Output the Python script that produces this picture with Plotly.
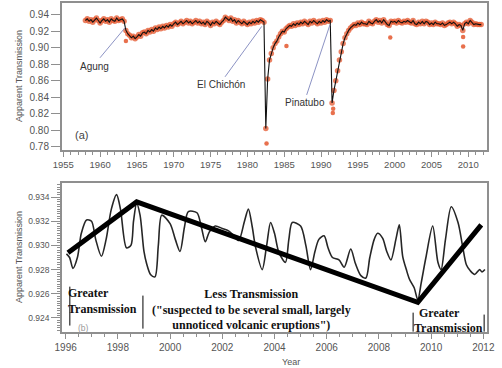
import plotly.graph_objects as go

# ---------------- data: panel (a) quarterly apparent transmission, 1958-2011 ----------------
top_start = 1958.0
top_step = 0.25
top_values = [
    0.933, 0.935, 0.932, 0.934,  # 1958
    0.931, 0.934, 0.936, 0.933,  # 1959
    0.930, 0.933, 0.935, 0.932,  # 1960
    0.934, 0.931, 0.935, 0.933,  # 1961
    0.932, 0.936, 0.933, 0.934,  # 1962
    0.935, 0.932, 0.921, 0.917,  # 1963
    0.915, 0.912, 0.914, 0.911,  # 1964
    0.913, 0.916, 0.914, 0.918,  # 1965
    0.919, 0.917, 0.921, 0.919,  # 1966
    0.922, 0.920, 0.924, 0.922,  # 1967
    0.925, 0.923, 0.926, 0.924,  # 1968
    0.927, 0.925, 0.928, 0.926,  # 1969
    0.929, 0.931, 0.928, 0.930,  # 1970
    0.932, 0.929, 0.931, 0.933,  # 1971
    0.930, 0.932, 0.929, 0.931,  # 1972
    0.933, 0.930, 0.932, 0.929,  # 1973
    0.931, 0.928, 0.932, 0.930,  # 1974
    0.927, 0.931, 0.929, 0.932,  # 1975
    0.930, 0.928, 0.931, 0.933,  # 1976
    0.937, 0.935, 0.933, 0.936,  # 1977
    0.932, 0.934, 0.930, 0.933,  # 1978
    0.931, 0.929, 0.932, 0.930,  # 1979
    0.928, 0.931, 0.929, 0.932,  # 1980
    0.930, 0.933, 0.931, 0.934,  # 1981
    0.933, 0.931, 0.802, 0.862,  # 1982
    0.885, 0.893, 0.900, 0.905,  # 1983
    0.908, 0.913, 0.917, 0.920,  # 1984
    0.919, 0.923, 0.925, 0.927,  # 1985
    0.926, 0.929, 0.927, 0.930,  # 1986
    0.928, 0.931, 0.929, 0.932,  # 1987
    0.930, 0.928, 0.932, 0.930,  # 1988
    0.933, 0.931, 0.929, 0.932,  # 1989
    0.930, 0.933, 0.931, 0.934,  # 1990
    0.932, 0.933, 0.833, 0.848,  # 1991
    0.860, 0.872, 0.885, 0.895,  # 1992
    0.905, 0.912, 0.917, 0.921,  # 1993
    0.924, 0.926, 0.928, 0.927,  # 1994
    0.930, 0.928, 0.931, 0.929,  # 1995
    0.929, 0.928, 0.932, 0.930,  # 1996
    0.929, 0.932, 0.934, 0.931,  # 1997
    0.933, 0.930, 0.934, 0.931,  # 1998
    0.928, 0.927, 0.932, 0.931,  # 1999
    0.932, 0.930, 0.933, 0.931,  # 2000
    0.930, 0.932, 0.931, 0.933,  # 2001
    0.931, 0.930, 0.933, 0.929,  # 2002
    0.928, 0.931, 0.929, 0.932,  # 2003
    0.929, 0.932, 0.931, 0.928,  # 2004
    0.930, 0.928, 0.931, 0.929,  # 2005
    0.929, 0.928, 0.930, 0.927,  # 2006
    0.928, 0.930, 0.931, 0.929,  # 2007
    0.931, 0.929, 0.926, 0.928,  # 2008
    0.927, 0.921, 0.929, 0.931,  # 2009
    0.929, 0.933, 0.931, 0.928,  # 2010
    0.929, 0.928, 0.928, 0.928,  # 2011
]
top_years = [top_start + i * top_step for i in range(len(top_values))]

# isolated monthly outliers (red dots away from the curve)
outlier_years = [1963.5, 1982.6, 1985.3, 1991.6, 1991.65, 1999.4, 2009.3, 2009.3]
outlier_values = [0.908, 0.784, 0.902, 0.821, 0.826, 0.9125, 0.913, 0.9015]

# volcano labels
volcano_names = ["Agung", "El Chichón", "Pinatubo"]
volcano_label_x = [1959.3, 1976.4, 1987.8]
volcano_label_y = [0.8768, 0.855, 0.833]
volcano_line_start = [(1959.98, 0.8878), (1976.96, 0.8647), (1988.05, 0.8428)]
volcano_line_end = [(1963.38, 0.9242), (1981.94, 0.9258), (1991.21, 0.9278)]

# ---------------- data: panel (b) 1996-2012 ----------------
bot_years = [
    1996.03, 1996.15, 1996.28, 1996.45, 1996.6, 1996.8, 1996.99, 1997.15, 1997.37, 1997.55,
    1997.75, 1997.95, 1998.1, 1998.33, 1998.5, 1998.6, 1998.72, 1998.85, 1999.0, 1999.1,
    1999.25, 1999.42, 1999.55, 1999.68, 2000.0, 2000.2, 2000.38, 2000.55, 2000.7, 2001.03,
    2001.2, 2001.35, 2001.5, 2001.73, 2002.0, 2002.24, 2002.45, 2002.63, 2002.85, 2003.0,
    2003.15, 2003.27, 2003.53, 2003.7, 2003.85, 2004.0, 2004.17, 2004.42, 2004.55, 2004.68,
    2005.0, 2005.2, 2005.38, 2005.55, 2005.7, 2005.9, 2006.05, 2006.22, 2006.47, 2006.67,
    2006.92, 2007.1, 2007.31, 2007.5, 2007.65, 2007.82, 2007.95, 2008.14, 2008.3, 2008.46,
    2008.65, 2008.78, 2008.91, 2009.05, 2009.17, 2009.35, 2009.49, 2009.62, 2009.8, 2010.06,
    2010.26, 2010.38, 2010.55, 2010.77, 2011.03, 2011.2, 2011.35, 2011.5, 2011.67, 2011.86,
    2011.95, 2012.06,
]
bot_values = [
    0.9293, 0.9290, 0.9281, 0.9290, 0.9310, 0.9321, 0.9320, 0.9305, 0.9291, 0.9305,
    0.9330, 0.9342, 0.9330, 0.9298, 0.9300, 0.9320, 0.9335, 0.9325, 0.9295, 0.9285,
    0.9276, 0.9274, 0.9300, 0.9325, 0.9318, 0.9305, 0.9295, 0.9315, 0.9328, 0.9327,
    0.9315, 0.9303, 0.9311, 0.9316, 0.9314, 0.9312, 0.9308, 0.9304, 0.9320, 0.9330,
    0.9315, 0.9299, 0.9280, 0.9300, 0.9319, 0.9310, 0.9294, 0.9286, 0.9305, 0.9319,
    0.9316, 0.9300, 0.9280, 0.9295, 0.9305, 0.9308, 0.9298, 0.9290, 0.9288, 0.9282,
    0.9297, 0.9285, 0.9275, 0.9273, 0.9290, 0.9305, 0.9310, 0.9306, 0.9295, 0.9288,
    0.9305, 0.9317, 0.9291, 0.9280, 0.9272, 0.9265, 0.9255, 0.9269, 0.9290, 0.9316,
    0.9286, 0.9280, 0.9305, 0.9332, 0.9319, 0.9300, 0.9284, 0.9279, 0.9276, 0.9280,
    0.9278, 0.9280,
]

# hand-drawn trend overlay
trend_years = [1996.09, 1998.72, 2009.49, 2011.92]
trend_values = [0.9294, 0.9336, 0.9253, 0.9317]

# separator ticks for the overlay text
sep_x = [1996.16, 1998.96, 2009.31, 2012.03]
sep_y0 = [0.92659, 0.92585, 0.92444, 0.92428]
sep_y1 = [0.92337, 0.92312, 0.92287, 0.92287]

top_tickvals = [0.78, 0.80, 0.82, 0.84, 0.86, 0.88, 0.90, 0.92, 0.94]
top_ticktext = ["0.78", "0.80", "0.82", "0.84", "0.86", "0.88", "0.90", "0.92", "0.94"]
bot_tickvals = [0.924, 0.926, 0.928, 0.930, 0.932, 0.934]
bot_ticktext = ["0.924", "0.926", "0.928", "0.930", "0.932", "0.934"]

# ---------------- figure ----------------
W, H = 502, 368
ML, MR, MT, MB = 62, 15, 3, 36
PW = W - ML - MR
PH = H - MT - MB


def px(x):
    return (x - ML) / PW


def py(y):
    return (H - MB - y) / PH


fig = go.Figure()

fig.add_trace(go.Scatter(x=top_years, y=top_values, mode="markers",
                         marker=dict(color="#e4572e", size=5.5, opacity=0.75),
                         xaxis="x", yaxis="y", hoverinfo="skip"))
fig.add_trace(go.Scatter(x=outlier_years, y=outlier_values, mode="markers",
                         marker=dict(color="#e4572e", size=4.5, opacity=0.85),
                         xaxis="x", yaxis="y", hoverinfo="skip"))
fig.add_trace(go.Scatter(x=top_years, y=top_values, mode="lines",
                         line=dict(color="#111111", width=1.1),
                         xaxis="x", yaxis="y"))

fig.add_trace(go.Scatter(x=bot_years, y=bot_values, mode="lines",
                         line=dict(color="#262626", width=1.6, shape="spline", smoothing=0.8),
                         xaxis="x2", yaxis="y2"))
fig.add_trace(go.Scatter(x=trend_years, y=trend_values, mode="lines",
                         line=dict(color="#000000", width=5),
                         xaxis="x2", yaxis="y2"))

shapes = []
for (x0, y0), (x1, y1) in zip(volcano_line_start, volcano_line_end):
    shapes.append(dict(type="line", xref="x", yref="y", x0=x0, y0=y0, x1=x1, y1=y1,
                       line=dict(color="#8c93c4", width=1)))
for sx, a, b in zip(sep_x, sep_y0, sep_y1):
    shapes.append(dict(type="line", xref="x2", yref="y2", x0=sx, x1=sx, y0=a, y1=b,
                       line=dict(color="#000000", width=1)))

ann = []
lab_font = dict(family="Liberation Sans, Arial", size=10, color="#333333")
for name, lx, ly in zip(volcano_names, volcano_label_x, volcano_label_y):
    ann.append(dict(xref="x", yref="y", x=lx, y=ly, text=name, showarrow=False,
                    xanchor="center", yanchor="middle", font=lab_font))

ann.append(dict(xref="paper", yref="paper", x=px(81), y=py(135), text="(a)",
                xanchor="center", yanchor="middle", showarrow=False,
                font=dict(family="Liberation Sans, Arial", size=11, color="#444")))
ann.append(dict(xref="paper", yref="paper", x=px(83), y=py(327.5), text="(b)",
                xanchor="center", yanchor="middle", showarrow=False, borderpad=0,
                font=dict(family="Liberation Sans, Arial", size=8.5, color="#999")))

ytitle_font = dict(family="Liberation Sans, Arial", size=9, color="#555")
ann.append(dict(xref="paper", yref="paper", x=px(19), y=py(76), text="Apparent Transmission",
                xanchor="center", yanchor="middle",
                textangle=-90, showarrow=False, font=ytitle_font))
ann.append(dict(xref="paper", yref="paper", x=px(19), y=py(257), text="Apparent Transmission",
                xanchor="center", yanchor="middle",
                textangle=-90, showarrow=False, font=ytitle_font))
ann.append(dict(xref="paper", yref="paper", x=px(291), y=py(362), text="Year",
                xanchor="center", yanchor="middle", showarrow=False, font=ytitle_font))

serif = dict(family="Liberation Serif, Times New Roman, serif", size=12, color="#111")
ann.append(dict(xref="paper", yref="paper", x=px(67), y=py(300.5), xanchor="left",
                yanchor="middle", align="left", text="<b>Greater<br>Transmission</b>",
                showarrow=False, borderpad=0, font=serif))
ann.append(dict(xref="paper", yref="paper", x=px(251), y=py(309), xanchor="center",
                yanchor="middle", align="center",
                text="<b>Less Transmission<br>(\"suspected to be several small, largely<br>unnoticed volcanic eruptions\")</b>",
                showarrow=False, font=serif))
ann.append(dict(xref="paper", yref="paper", x=px(417), y=py(313), xanchor="left",
                yanchor="middle", text="<b>Greater</b>", showarrow=False, font=serif))
ann.append(dict(xref="paper", yref="paper", x=px(412), y=py(328), xanchor="left",
                yanchor="middle", text="<b>Transmission</b>", showarrow=False, font=serif))

axcol = "#8f8f8f"
tickfont = dict(family="Liberation Sans, Arial", size=10, color="#555")

fig.update_layout(
    template="none",
    width=W, height=H, margin=dict(l=ML, r=MR, t=MT, b=MB, autoexpand=False),
    paper_bgcolor="white", plot_bgcolor="white", showlegend=False,
    shapes=shapes, annotations=ann,
    xaxis=dict(domain=[0, 1], anchor="y", range=[1954.82, 2012.54], automargin=False,
               tickmode="array", tickvals=[1955, 1960, 1965, 1970, 1975, 1980, 1985, 1990, 1995, 2000, 2005, 2010],
               ticks="outside", ticklen=5, tickcolor=axcol, tickwidth=1,
               minor=dict(dtick=1, ticks="outside", ticklen=3, tickcolor=axcol, showgrid=False),
               showline=True, linecolor=axcol, linewidth=2, mirror=True,
               showgrid=False, zeroline=False, tickfont=dict(family="Liberation Sans, Arial", size=9.5, color="#555")),
    yaxis=dict(domain=[py(150), 1], anchor="x", range=[0.776, 0.9542], automargin=False,
               tickmode="array", tickvals=top_tickvals, ticktext=top_ticktext,
               ticks="outside", ticklen=9, tickcolor=axcol, tickwidth=1,
               showline=True, linecolor=axcol, linewidth=2, mirror=True,
               showgrid=False, zeroline=False, tickfont=tickfont),
    xaxis2=dict(domain=[0, 1], anchor="y2", range=[1995.86, 2012.14], automargin=False,
                tickmode="array", tickvals=[1996, 1998, 2000, 2002, 2004, 2006, 2008, 2010, 2012],
                ticks="outside", ticklen=5, tickcolor=axcol, tickwidth=1,
                minor=dict(dtick=0.5, ticks="outside", ticklen=3, tickcolor=axcol, showgrid=False),
                showline=True, linecolor=axcol, linewidth=1.5, mirror=True,
                showgrid=False, zeroline=False, tickfont=tickfont),
    yaxis2=dict(domain=[0, py(183)], anchor="x2", range=[0.92284, 0.93516], automargin=False,
                tickmode="array", tickvals=bot_tickvals, ticktext=bot_ticktext,
                ticks="outside", ticklen=9, tickcolor=axcol, tickwidth=1,
                minor=dict(dtick=0.0002, ticks="outside", ticklen=3, tickcolor=axcol, showgrid=False),
                showline=True, linecolor=axcol, linewidth=1.5, mirror=True,
                showgrid=False, zeroline=False, tickfont=dict(family="Liberation Sans, Arial", size=8.5, color="#555")),
)

fig.write_html("out.html", config={"displayModeBar": False},
               post_script="document.body.style.margin='0';")
